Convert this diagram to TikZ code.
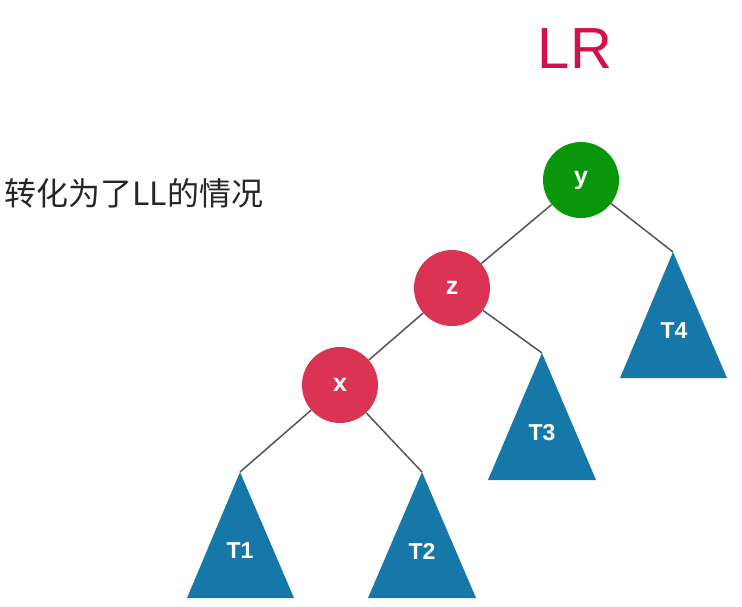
\documentclass[tikz,border=0pt]{standalone}
\usepackage{fontspec}
\setmainfont{Liberation Sans}
\newfontfamily\cjk{Noto Sans CJK SC}
\definecolor{nodegreen}{RGB}{8,150,10}
\definecolor{nodered}{RGB}{218,52,82}
\definecolor{treeblue}{RGB}{22,120,168}
\definecolor{titlered}{RGB}{208,18,72}
\definecolor{edgegray}{RGB}{85,85,85}
\begin{document}
\begin{tikzpicture}[x=1pt,y=-1pt,
  vert/.style={circle,minimum size=76pt,inner sep=0pt,text=white,font=\bfseries\fontsize{25}{25}\selectfont},
  tlabel/.style={text=white,font=\bfseries\fontsize{23}{23}\selectfont},
  edge/.style={draw=edgegray,line width=1.5pt}]
\useasboundingbox (0,0) rectangle (742,606);
\fill[white] (0,0) rectangle (742,606);
% title and note
\node[text=titlered,font=\fontsize{58}{58}\selectfont] (title) at (575,49) {LR};
\node[anchor=west,font=\cjk\fontsize{32}{32}\selectfont,text=black!85] (note) at (1,193) {转化为了LL的情况};
% triangles
\coordinate (a4) at (673,252);
\coordinate (a3) at (542,353);
\coordinate (a1) at (240,472);
\coordinate (a2) at (422,472);
\fill[treeblue] (a4) -- (620,378) -- (727,378) -- cycle;
\fill[treeblue] (a3) -- (488,480) -- (596,480) -- cycle;
\fill[treeblue] (a1) -- (187,598) -- (294,598) -- cycle;
\fill[treeblue] (a2) -- (368,598) -- (476,598) -- cycle;
\node[tlabel] (t4) at (674,331) {T4};
\node[tlabel] (t3) at (542,433) {T3};
\node[tlabel] (t1) at (240,551) {T1};
\node[tlabel] (t2) at (422,551) {T2};
% circles
\node[vert,fill=nodegreen] (y) at (581,180) {y};
\node[vert,fill=nodered] (z) at (452,288) {z};
\node[vert,fill=nodered] (x) at (340,385) {x};
% edges
\draw[edge] (y) -- (z);
\draw[edge] (y) -- (a4);
\draw[edge] (z) -- (x);
\draw[edge] (z) -- (a3);
\draw[edge] (x) -- (a1);
\draw[edge] (x) -- (a2);
\end{tikzpicture}
\end{document}
